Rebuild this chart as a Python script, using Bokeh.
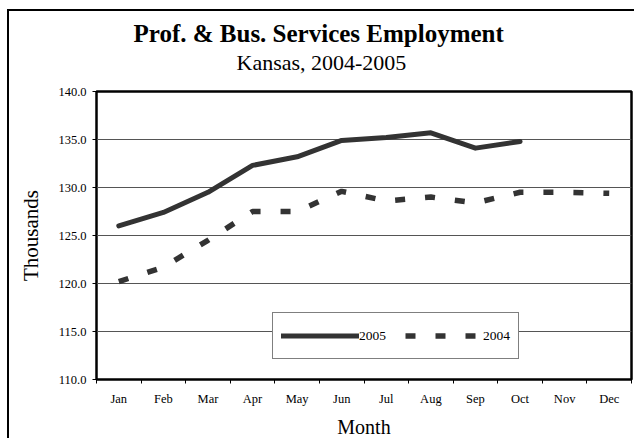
from bokeh.plotting import figure
from bokeh.models import (Range1d, FixedTicker, NumeralTickFormatter, Legend, LegendItem,
                          ColumnDataSource, Title)
from bokeh.embed import file_html
from bokeh.resources import INLINE

months = ["Jan", "Feb", "Mar", "Apr", "May", "Jun", "Jul", "Aug", "Sep", "Oct", "Nov", "Dec"]
y2005 = [126.0, 127.4, 129.5, 132.3, 133.2, 134.9, 135.2, 135.7, 134.1, 134.8]
y2004 = [120.2, 121.7, 124.5, 127.5, 127.5, 129.6, 128.6, 129.0, 128.4, 129.5, 129.5, 129.4]
y_ticks = [110, 115, 120, 125, 130, 135, 140]

SERIF = "Liberation Serif"

x_centers = [i + 0.5 for i in range(len(months))]
src05 = ColumnDataSource(dict(x=x_centers[:len(y2005)], y=y2005))
src04 = ColumnDataSource(dict(x=x_centers[:len(y2004)], y=y2004))

p = figure(width=627, height=429, output_backend="svg", toolbar_location=None,
           x_range=Range1d(0, len(months)), y_range=Range1d(y_ticks[0], y_ticks[-1]),
           min_border_left=87, min_border_right=5, min_border_top=80, min_border_bottom=59)
# outer chart border (left and top; right/bottom run off the picture)
p.styles = {"margin-left": "7px", "margin-top": "9px",
            "border-left": "2px solid black", "border-top": "2px solid black"}

p.background_fill_color = "white"
p.border_fill_color = "white"
p.outline_line_color = "black"
p.outline_line_width = 2.5

# titles: spacer next to the frame, then subtitle, then main title on top
p.add_layout(Title(text=" ", text_font_size="6px", standoff=9), "above")
p.add_layout(Title(text="Kansas, 2004-2005", align="left", offset=140, text_font=SERIF,
                   text_font_style="normal", text_font_size="22px", text_color="black",
                   standoff=0), "above")
p.title.text = "Prof. & Bus. Services Employment"
p.title.align = "left"
p.title.offset = 37
p.title.text_font = SERIF
p.title.text_font_style = "bold"
p.title.text_font_size = "25px"
p.title.text_color = "black"
p.title.standoff = 2

# grid
p.xgrid.visible = False
p.ygrid.ticker = FixedTicker(ticks=y_ticks[1:-1])
p.ygrid.grid_line_color = "#555555"
p.ygrid.grid_line_width = 1

# y axis
p.yaxis.ticker = FixedTicker(ticks=y_ticks)
p.yaxis.formatter = NumeralTickFormatter(format="0.0")
p.yaxis.axis_line_color = None
p.yaxis.major_tick_out = 4
p.yaxis.major_tick_in = 0
p.yaxis.minor_tick_line_color = None
p.yaxis.major_label_standoff = 6
p.yaxis.major_label_text_font = SERIF
p.yaxis.major_label_text_font_size = "12.5px"
p.yaxis.major_label_text_color = "black"
p.yaxis.axis_label = "Thousands"
p.yaxis.axis_label_text_font = SERIF
p.yaxis.axis_label_text_font_style = "normal"
p.yaxis.axis_label_text_font_size = "21px"
p.yaxis.axis_label_text_color = "black"
p.yaxis.axis_label_standoff = 12

# x axis: labels at month centres, ticks at month boundaries
p.xaxis.ticker = FixedTicker(ticks=x_centers, minor_ticks=list(range(len(months) + 1)))
p.xaxis.major_label_overrides = {x: m for x, m in zip(x_centers, months)}
p.xaxis.axis_line_color = None
p.xaxis.major_tick_out = 0
p.xaxis.major_tick_in = 0
p.xaxis.minor_tick_out = 4
p.xaxis.minor_tick_in = 0
p.xaxis.minor_tick_line_color = "black"
p.xaxis.major_label_standoff = 8
p.xaxis.major_label_text_font = SERIF
p.xaxis.major_label_text_font_size = "12.5px"
p.xaxis.major_label_text_color = "black"
p.xaxis.axis_label = "Month"
p.xaxis.axis_label_text_font = SERIF
p.xaxis.axis_label_text_font_style = "normal"
p.xaxis.axis_label_text_font_size = "20px"
p.xaxis.axis_label_text_color = "black"
p.xaxis.axis_label_standoff = 7

r05 = p.line("x", "y", source=src05, line_color="#333333", line_width=5, line_cap="round",
             line_join="round")
r04 = p.line("x", "y", source=src04, line_color="#333333", line_width=5.5, line_dash="10 20",
             line_cap="butt")

legend = Legend(items=[LegendItem(label="2005", renderers=[r05]),
                       LegendItem(label="2004", renderers=[r04])],
                location=(176, 20), orientation="horizontal", glyph_width=78, glyph_height=29,
                label_height=29, label_standoff=0, spacing=19, padding=8, margin=0,
                border_line_color="black", border_line_width=1, background_fill_alpha=1,
                label_text_font=SERIF, label_text_font_size="13.5px", label_text_color="black")
p.add_layout(legend, "center")

open("out.html", "w").write(file_html(p, INLINE))
